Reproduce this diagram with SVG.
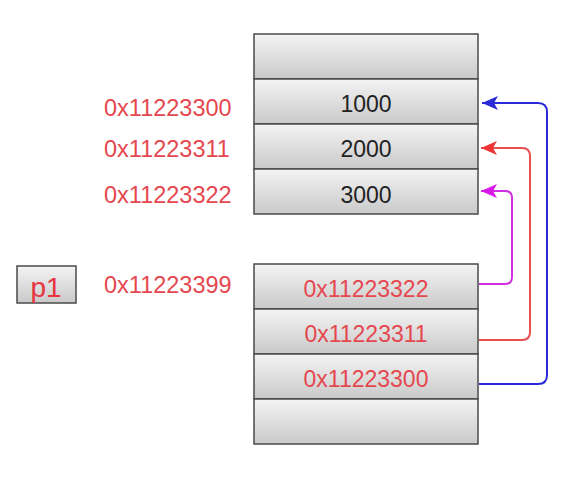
<svg xmlns="http://www.w3.org/2000/svg" width="580" height="492" viewBox="0 0 580 492">
<defs>
<linearGradient id="cellg" x1="0" y1="0" x2="0" y2="1">
<stop offset="0" stop-color="#f4f4f4"/>
<stop offset="1" stop-color="#c9c9c9"/>
</linearGradient>
<marker id="ab" viewBox="0 0 16 14" refX="16" refY="7" markerWidth="16" markerHeight="14" markerUnits="userSpaceOnUse" orient="auto">
<path d="M0,0 L16,7 L0,14 L4,7 Z" fill="#2a2ad8"/>
</marker>
<marker id="ar" viewBox="0 0 16 14" refX="16" refY="7" markerWidth="16" markerHeight="14" markerUnits="userSpaceOnUse" orient="auto">
<path d="M0,0 L16,7 L0,14 L4,7 Z" fill="#ee3434"/>
</marker>
<marker id="am" viewBox="0 0 16 14" refX="16" refY="7" markerWidth="16" markerHeight="14" markerUnits="userSpaceOnUse" orient="auto">
<path d="M0,0 L16,7 L0,14 L4,7 Z" fill="#d818e8"/>
</marker>
</defs>
<style>
.cell{fill:url(#cellg);stroke:#4a4a4a;stroke-width:1.5}
.val{font-family:"Liberation Sans",Arial,sans-serif;font-size:23px;fill:#222;text-anchor:middle}
.addr{font-family:"Liberation Sans",Arial,sans-serif;font-size:23.5px;fill:#e5474f}
.addrc{font-family:"Liberation Sans",Arial,sans-serif;font-size:23px;fill:#e5474f;text-anchor:middle}
.conn{fill:none;stroke-width:2}
</style>
<rect width="580" height="492" fill="#ffffff"/>
<g id="top-stack">
<rect class="cell" x="254" y="34" width="224" height="45"/>
<g id="cell-1000"><rect class="cell" x="254" y="79" width="224" height="45"/><text class="val" x="366" y="112">1000</text></g>
<g id="cell-2000"><rect class="cell" x="254" y="124" width="224" height="45"/><text class="val" x="366" y="157">2000</text></g>
<g id="cell-3000"><rect class="cell" x="254" y="169" width="224" height="45"/><text class="val" x="366" y="203">3000</text></g>
</g>
<g id="bottom-stack">
<g id="ptr-322"><rect class="cell" x="254" y="264" width="224" height="45"/><text class="addrc" x="366" y="297">0x11223322</text></g>
<g id="ptr-311"><rect class="cell" x="254" y="309" width="224" height="45"/><text class="addrc" x="366" y="342">0x11223311</text></g>
<g id="ptr-300"><rect class="cell" x="254" y="354" width="224" height="45"/><text class="addrc" x="366" y="387">0x11223300</text></g>
<rect class="cell" x="254" y="399" width="224" height="45"/>
</g>
<g id="labels">
<text class="addr" x="104" y="116">0x11223300</text>
<text class="addr" x="104" y="157">0x11223311</text>
<text class="addr" x="104" y="203">0x11223322</text>
<text class="addr" x="104" y="293">0x11223399</text>
</g>
<g id="p1">
<rect class="cell" x="17" y="266" width="59" height="37"/>
<text x="46" y="297" font-family="Liberation Sans, Arial, sans-serif" font-size="28" fill="#e5343f" text-anchor="middle">p1</text>
</g>
<g id="connectors">
<path class="conn" stroke="#2a2ad8" d="M479,384 H538 Q547,384 547,375 V112 Q547,103 538,103 H482" marker-end="url(#ab)"/>
<path class="conn" stroke="#e85050" d="M479,340 H522 Q530,340 530,332 V156 Q530,148 522,148 H481" marker-end="url(#ar)"/>
<path class="conn" stroke="#d030e0" d="M479,284 H505 Q512,284 512,277 V198 Q512,191 505,191 H481" marker-end="url(#am)"/>
</g>
</svg>
